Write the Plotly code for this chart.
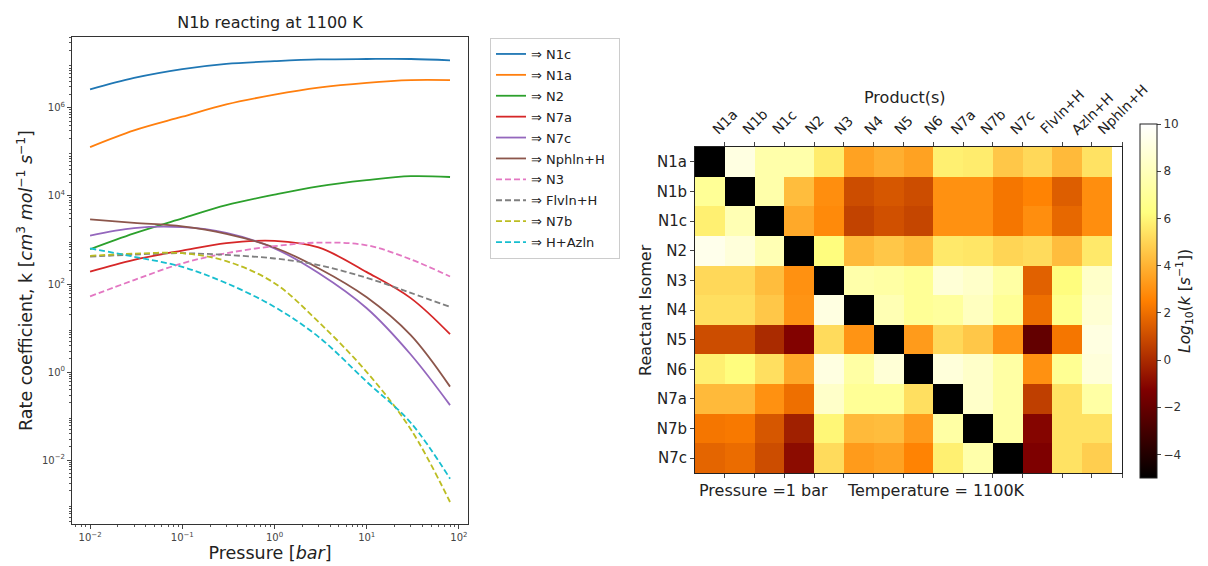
import plotly.graph_objects as go

# ---------------- Left panel data ----------------
pressure = [0.01, 0.03, 0.1, 0.3, 1, 3, 10, 30, 80]
series_names = ["⇒ N1c", "⇒ N1a", "⇒ N2", "⇒ N7a", "⇒ N7c", "⇒ Nphln+H",
                "⇒ N3", "⇒ Flvln+H", "⇒ N7b", "⇒ H+Azln"]
# log10 of rate coefficient
log_N1c = [6.42, 6.68, 6.88, 7.00, 7.06, 7.10, 7.11, 7.11, 7.08]
log_N1a = [5.11, 5.49, 5.80, 6.08, 6.30, 6.46, 6.57, 6.63, 6.63]
log_N2 = [2.79, 3.15, 3.49, 3.79, 4.03, 4.22, 4.36, 4.45, 4.43]
log_N7a = [2.28, 2.55, 2.76, 2.93, 2.98, 2.83, 2.27, 1.68, 0.86]
log_N7c = [3.10, 3.27, 3.29, 3.16, 2.81, 2.25, 1.45, 0.40, -0.75]
log_NphlnH = [3.47, 3.39, 3.31, 3.14, 2.83, 2.36, 1.70, 0.84, -0.33]
log_N3 = [1.72, 2.09, 2.47, 2.70, 2.86, 2.94, 2.88, 2.56, 2.17]
log_FlvlnH = [2.62, 2.67, 2.70, 2.66, 2.58, 2.43, 2.14, 1.80, 1.48]
log_N7b = [2.64, 2.69, 2.70, 2.52, 2.02, 1.14, 0.00, -1.30, -2.95]
log_HAzln = [2.81, 2.62, 2.39, 2.02, 1.48, 0.80, -0.22, -1.15, -2.42]
series_logs = [log_N1c, log_N1a, log_N2, log_N7a, log_N7c, log_NphlnH,
               log_N3, log_FlvlnH, log_N7b, log_HAzln]
series_colors = ["#1f77b4", "#ff7f0e", "#2ca02c", "#d62728", "#9467bd", "#8c564b",
                 "#e377c2", "#7f7f7f", "#bcbd22", "#17becf"]
series_dash = ["solid"] * 6 + ["6px,3px"] * 4

# ---------------- Right panel data ----------------
products = ["N1a", "N1b", "N1c", "N2", "N3", "N4", "N5", "N6", "N7a", "N7b", "N7c",
            "Flvln+H", "Azln+H", "Nphln+H"]
reactants = ["N1a", "N1b", "N1c", "N2", "N3", "N4", "N5", "N6", "N7a", "N7b", "N7c"]
row_N1a = [-5, 9.1, 7.5, 7.5, 5.7, 3.5, 3.9, 3.5, 5.8, 5.7, 4.6, 5.1, 4.2, 5.4]
row_N1b = [6.9, -5, 7.5, 4.3, 2.9, 1.0, 1.3, 1.0, 3.0, 3.0, 2.2, 2.6, 1.5, 2.9]
row_N1c = [5.8, 7.8, -5, 3.7, 2.8, 0.7, 1.1, 0.8, 3.0, 3.0, 2.2, 2.9, 1.8, 2.9]
row_N2 = [9.4, 8.9, 7.8, -5, 6.2, 4.2, 4.6, 4.2, 5.6, 5.5, 5.0, 5.2, 4.3, 5.6]
row_N3 = [5.1, 5.1, 4.3, 3.0, -5, 7.5, 7.3, 6.9, 8.8, 8.4, 7.3, 1.6, 6.2, 8.4]
row_N4 = [5.3, 5.3, 4.6, 3.1, 9.1, -5, 7.8, 6.9, 7.1, 8.1, 6.9, 2.0, 6.6, 8.7]
row_N5 = [1.0, 1.0, 0.0, -1.2, 5.2, 3.1, -5, 3.3, 5.1, 4.6, 3.1, -2.1, 2.2, 9.1]
row_N6 = [5.8, 6.2, 5.3, 3.7, 9.1, 7.3, 8.8, -5, 8.9, 8.4, 7.3, 3.0, 6.8, 8.9]
row_N7a = [4.2, 4.2, 3.0, 2.0, 8.4, 6.9, 6.9, 5.3, -5, 8.4, 7.3, 0.6, 5.4, 7.3]
row_N7b = [2.2, 2.3, 1.3, -0.3, 6.0, 4.2, 4.3, 3.3, 7.3, -5, 7.3, -1.1, 5.4, 5.4]
row_N7c = [1.7, 1.9, 1.0, -0.9, 5.2, 3.3, 3.5, 2.6, 5.8, 7.5, -5, -1.3, 5.4, 4.8]
heat_z = [row_N1a, row_N1b, row_N1c, row_N2, row_N3, row_N4, row_N5, row_N6,
          row_N7a, row_N7b, row_N7c]
cbar_ticks = [-4, -2, 0, 2, 4, 6, 8, 10]
cbar_ticktext = ["−4", "−2", "0", "2", "4", "6", "8", "10"]
x_decades = [-2, -1, 0, 1, 2]
y_decades = [-2, 0, 2, 4, 6]

FONT = "DejaVu Sans"


def pow_label(e):
    s = str(e).replace("-", "−")
    return "10<sup>" + s + "</sup>"


fig = go.Figure()

for name, logs, col, dash in zip(series_names, series_logs, series_colors, series_dash):
    fig.add_trace(go.Scatter(
        x=pressure, y=[10 ** v for v in logs], name=name + "\u00a0\u00a0", mode="lines",
        legendgroup=name,
        line=dict(color=col, dash=dash, width=1.8, shape="spline", smoothing=1.0),
        xaxis="x", yaxis="y"))

afmhot = [[0.0, "rgb(0,0,0)"], [0.25, "rgb(128,0,0)"], [0.5, "rgb(255,128,0)"],
          [0.75, "rgb(255,255,128)"], [1.0, "rgb(255,255,255)"]]

fig.add_trace(go.Heatmap(
    z=heat_z, x=list(range(len(products))), y=list(range(len(reactants))),
    colorscale=afmhot, zmin=-5, zmax=10, showlegend=False,
    xaxis="x2", yaxis="y2",
    colorbar=dict(
        x=1140 / 1208, xanchor="left", y=(566 - 301) / 566, yanchor="middle",
        len=354 / 566, lenmode="fraction", thickness=17, thicknessmode="pixels",
        xpad=0, ypad=0,
        outlinecolor="#222", outlinewidth=1,
        tickvals=cbar_ticks, ticktext=cbar_ticktext,
        ticks="outside", ticklen=4, tickfont=dict(family=FONT, size=12, color="#333"),
        title=dict(text="<i>Log</i><sub>10</sub>(<i>k</i> [<i>s</i><sup>−1</sup>])",
                   side="right", font=dict(family=FONT, size=15.5, color="#222")),
    )))

# tick positions for heatmap columns (placed at cell right edges as in the reference)
col_tick_pos = [i + 0.5 for i in range(11)] + [11.82, 12.82, 13.83]
minor_vals = [m * 10.0 ** e for e in range(-4, 9) for m in range(2, 10)]

annotations = [
    dict(text="Pressure =1 bar\u00a0\u00a0\u00a0\u00a0Temperature = 1100K", xref="paper", yref="paper",
         x=697 / 1208, y=(566 - 491) / 566, xanchor="left", yanchor="middle",
         showarrow=False, font=dict(family=FONT, size=16, color="#222")),
    dict(text="Product(s)", xref="paper", yref="paper",
         x=905 / 1208, y=(566 - 97) / 566, xanchor="center", yanchor="middle",
         showarrow=False, font=dict(family=FONT, size=16, color="#222")),
    dict(text="Reactant Isomer", xref="paper", yref="paper", textangle=-90,
         x=645 / 1208, y=(566 - 310) / 566, xanchor="center", yanchor="middle",
         showarrow=False, font=dict(family=FONT, size=16, color="#222")),
]
# rotated column labels, centred on their ticks like matplotlib
for pos, lab in zip(col_tick_pos, products):
    annotations.append(dict(
        text=lab, xref="x2", yref="paper", x=pos, y=(566 - 139) / 566,
        xanchor="center", yanchor="bottom", textangle=-45, showarrow=False,
        borderpad=0, font=dict(family=FONT, size=14, color="#222")))

fig.update_layout(
    width=1208, height=566,
    paper_bgcolor="white", plot_bgcolor="white",
    margin=dict(l=0, r=0, t=0, b=0, autoexpand=False),
    font=dict(family=FONT, color="#222"),
    showlegend=True,
    legend=dict(x=490 / 1208, y=(566 - 38) / 566, xanchor="left", yanchor="top",
                bordercolor="#cccccc", borderwidth=1, bgcolor="white",
                font=dict(family=FONT, size=13, color="#222"), tracegroupgap=1),
    xaxis=dict(domain=[72 / 1208, 468 / 1208], type="log", range=[-2.196, 2.098],
               showgrid=False, zeroline=False, showline=True, linecolor="#333",
               mirror=True, ticks="outside", ticklen=4,
               tickmode="array", tickvals=[10.0 ** e for e in x_decades],
               ticktext=[pow_label(e) for e in x_decades],
               tickfont=dict(size=10, color="#444"),
               minor=dict(ticks="outside", ticklen=2, tickcolor="#555",
                          tickmode="array", tickvals=minor_vals),
               title=dict(text="Pressure [<i>bar</i>]", font=dict(size=17.5), standoff=2),
               anchor="y"),
    yaxis=dict(domain=[42 / 566, 529 / 566], type="log", range=[-3.45, 7.61],
               showgrid=False, zeroline=False, showline=True, linecolor="#333",
               mirror=True, ticks="outside", ticklen=4,
               tickmode="array", tickvals=[10.0 ** e for e in y_decades],
               ticktext=[pow_label(e) for e in y_decades],
               tickfont=dict(size=10, color="#444"),
               minor=dict(ticks="outside", ticklen=2, tickcolor="#555",
                          tickmode="array", tickvals=minor_vals),
               title=dict(text="Rate coefficient, k [<i>cm</i><sup>3</sup> <i>mol</i><sup>−1</sup> <i>s</i><sup>−1</sup>]",
                          font=dict(size=17.5), standoff=4),
               anchor="x"),
    xaxis2=dict(domain=[695 / 1208, 1122 / 1208], range=[-0.5, 13.83], side="top",
                showgrid=False, zeroline=False, showline=True, linecolor="#222",
                mirror="ticks", ticks="outside", ticklen=4, tickvals=col_tick_pos,
                ticktext=products, showticklabels=False,
                anchor="y2"),
    yaxis2=dict(domain=[93 / 566, 419 / 566], range=[10.5, -0.5],
                showgrid=False, zeroline=False, showline=True, linecolor="#222",
                mirror=True, ticks="outside", ticklen=4,
                tickvals=list(range(len(reactants))), ticktext=reactants,
                tickfont=dict(size=15),
                anchor="x2"),
    title=dict(text="N1b reacting at 1100 K", x=270 / 1208, xanchor="center",
               y=(566 - 22) / 566, yanchor="middle", font=dict(family=FONT, size=16, color="#222")),
    annotations=annotations,
)

fig.write_html("out.html", config={"displayModeBar": False},
               post_script="document.body.style.margin='0';document.body.style.overflow='hidden';")
